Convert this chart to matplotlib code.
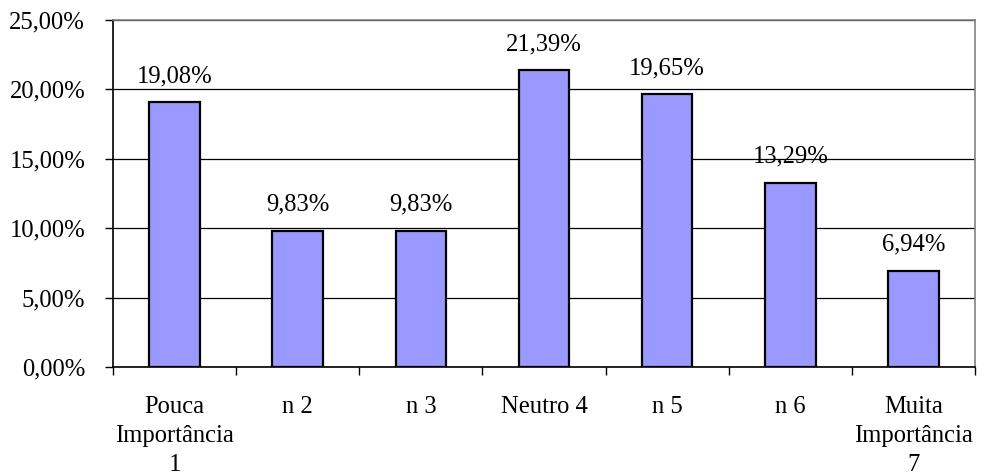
import numpy as np
import matplotlib.pyplot as plt
from matplotlib.ticker import FuncFormatter

categories = ["Pouca\nImportância\n1", "n 2", "n 3", "Neutro 4", "n 5", "n 6", "Muita\nImportância\n7"]
values = [19.08, 9.83, 9.83, 21.39, 19.65, 13.29, 6.94]
y_ticks = [0, 5, 10, 15, 20, 25]

plt.rcParams['font.family'] = ['Liberation Serif', 'DejaVu Serif']
fs = 17.7

fig = plt.figure(figsize=(9.82, 4.75), dpi=100)
ax = fig.add_axes([113/982, 1 - 367/475, (975 - 113)/982, (367 - 20)/475])

x = np.arange(len(values))
bars = ax.bar(x, values, width=0.41, color='#9999FF', edgecolor='black', linewidth=1.6, zorder=3)

for xi, v in zip(x, values):
    ax.annotate(f"{v:.2f}%".replace('.', ','), (xi, v), xytext=(0, 15), textcoords='offset pixels',
                ha='center', va='bottom', fontsize=fs)

ax.set_xlim(-0.5, len(values) - 0.5)
ax.set_ylim(0, 25)
ax.set_yticks(y_ticks)
ax.yaxis.set_major_formatter(FuncFormatter(lambda v, p: f"{v:.2f}%".replace('.', ',')))
ax.yaxis.grid(True, color='black', linewidth=0.9, zorder=0)

# category labels centered, ticks on the boundaries
ax.set_xticks(x)
ax.set_xticklabels(categories, fontsize=fs, linespacing=1.4)
ax.tick_params(axis='x', length=0, pad=21)
ax.set_xticks(np.arange(len(values) + 1) - 0.5, minor=True)
ax.tick_params(axis='x', which='minor', length=6, width=1, direction='out')
ax.tick_params(axis='y', length=6, width=1, direction='out', labelsize=fs, pad=14)

for s in ['top', 'right']:
    ax.spines[s].set_color('#808080')
    ax.spines[s].set_linewidth(1.2)
for s in ['left', 'bottom']:
    ax.spines[s].set_color('black')
    ax.spines[s].set_linewidth(1.2)

fig.savefig('out.png', dpi=100)
